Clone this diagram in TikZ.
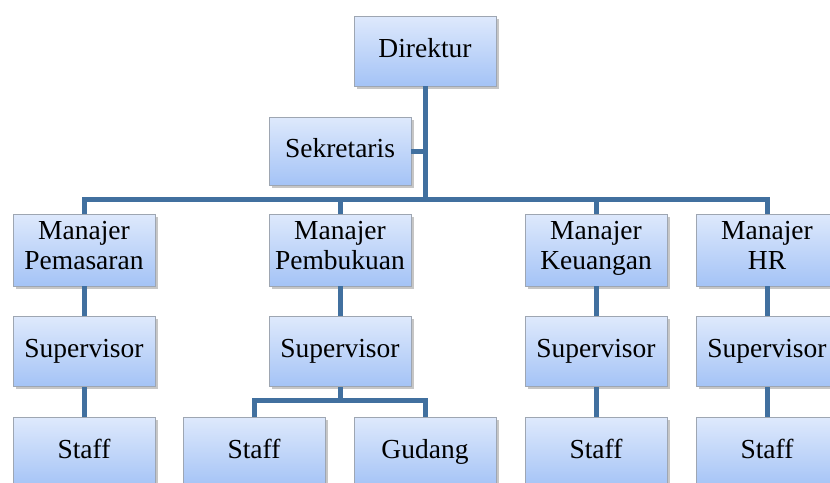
\documentclass[tikz,border=0pt]{standalone}
\usepackage{fontspec}
\setmainfont{Liberation Serif}
\usepackage{xcolor}
\usepackage{tikz}
\usetikzlibrary{positioning,shadows,calc}
\definecolor{orgLine}{HTML}{41709F}
\definecolor{orgTop}{HTML}{DEE9FC}
\definecolor{orgBottom}{HTML}{A4C3F6}
\definecolor{orgEdge}{HTML}{9EA6B2}
\tikzset{
  unitbox/.style={rectangle,minimum width=142pt,minimum height=70pt,
    inner sep=1pt,align=center,draw=orgEdge,line width=0.8pt,
    top color=orgTop,bottom color=orgBottom,
    font=\fontsize{27.5}{30}\selectfont,text=black,
    execute at begin node=\strut,execute at end node=\strut,
    drop shadow={opacity=0.45,shadow xshift=2.5pt,shadow yshift=-2.5pt}},
  link/.style={draw=orgLine,line width=5pt},
}
\begin{document}
\begin{tikzpicture}[x=1pt,y=-1pt,node distance=30pt and 30pt]
  \useasboundingbox (0,0) rectangle (830,482);

  \node[unitbox] (dir) at (425,51) {Direktur};
  \node[unitbox,minimum height=68pt] (sek) at (340,151) {Sekretaris};
  \coordinate (bus) at (425,199);

  % manajer
  \node[unitbox,minimum height=72pt] (mpem) at (84,250) {Manajer\\Pemasaran};
  \node[unitbox,minimum height=72pt] (mpbk) at (340,250) {Manajer\\Pembukuan};
  \node[unitbox,minimum height=72pt] (mkeu) at (596,250) {Manajer\\Keuangan};
  \node[unitbox,minimum height=72pt] (mhr) at (767,250) {Manajer\\HR};

  % supervisor
  \node[unitbox,below=30pt of mpem] (spv1) {Supervisor};
  \node[unitbox,below=30pt of mpbk] (spv2) {Supervisor};
  \node[unitbox,below=30pt of mkeu] (spv3) {Supervisor};
  \node[unitbox,below=30pt of mhr] (spv4) {Supervisor};

  % staff
  \node[unitbox,below=30pt of spv1] (stf1) {Staff};
  \node[unitbox] (stf2) at (254,452) {Staff};
  \node[unitbox] (gdg) at (425,452) {Gudang};
  \node[unitbox,below=30pt of spv3] (stf3) {Staff};
  \node[unitbox,below=30pt of spv4] (stf4) {Staff};
  \coordinate[below=13pt of spv2] (fork);

  \draw[link] (dir.south) -- (bus);
  \draw[link] (sek.east) -- (sek.east -| bus);
  \draw[link] (mpem.north) |- (bus) -| (mhr.north);
  \draw[link] (mpbk.north) -- (mpbk.north |- bus);
  \draw[link] (mkeu.north) -- (mkeu.north |- bus);

  \draw[link] (mpem) -- (spv1);
  \draw[link] (mpbk) -- (spv2);
  \draw[link] (mkeu) -- (spv3);
  \draw[link] (mhr) -- (spv4);

  \draw[link] (spv1) -- (stf1);
  \draw[link] (spv2.south) -- (fork);
  \draw[link] (stf2.north) |- (fork) -| (gdg.north);
  \draw[link] (spv3) -- (stf3);
  \draw[link] (spv4) -- (stf4);
\end{tikzpicture}
\end{document}
